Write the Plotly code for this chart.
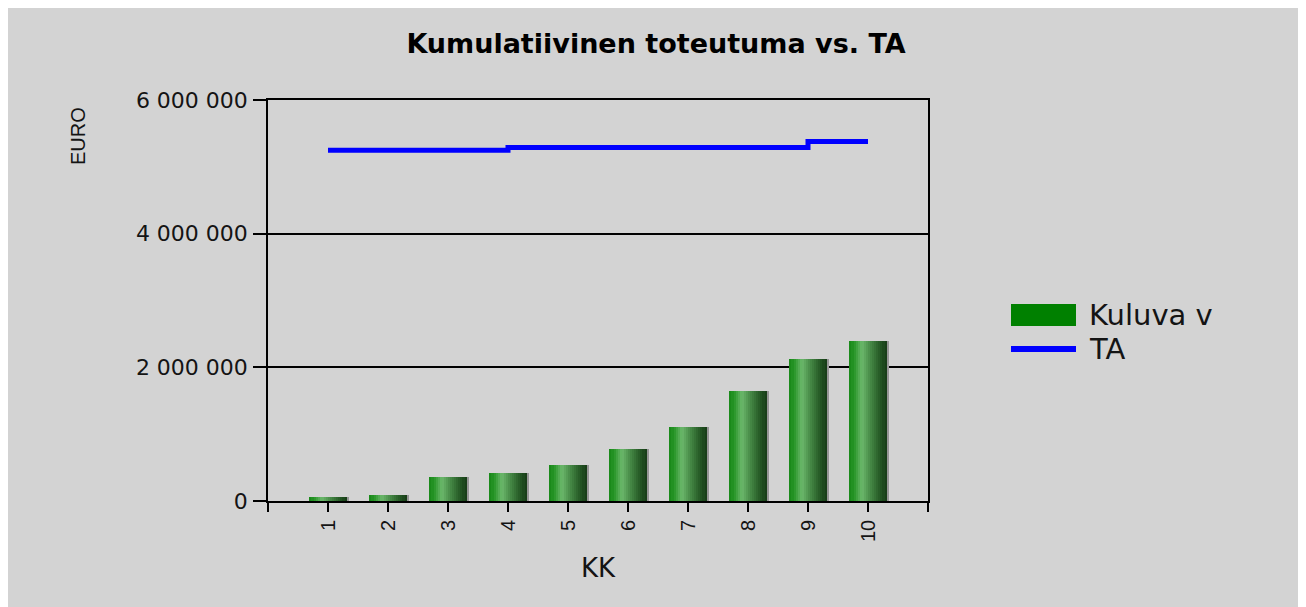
import plotly.graph_objects as go

# ---- data ----
months = [1, 2, 3, 4, 5, 6, 7, 8, 9, 10]
kuluva_v = [65000, 95000, 365000, 420000, 540000, 780000, 1110000, 1650000, 2130000, 2400000]
ta = [5250000, 5250000, 5250000, 5290000, 5290000, 5290000, 5290000, 5290000, 5380000, 5380000]
y_ticks = [0, 2000000, 4000000, 6000000]
x_tick_labels = ["", "1", "2", "3", "4", "5", "6", "7", "8", "9", "10", ""]
x_tick_vals = list(range(0, 12))
series_names = ["Kuluva v", "TA"]

# ---- styling helpers ----
BAR_W = 0.62
N_STRIPES = 18
stops = [(0.0, (22, 135, 22)), (0.12, (40, 150, 40)), (0.33, (108, 184, 108)),
         (0.55, (72, 140, 72)), (0.85, (35, 85, 35)), (1.0, (22, 58, 22))]


def grad(t):
    for (t0, c0), (t1, c1) in zip(stops[:-1], stops[1:]):
        if t0 <= t <= t1:
            f = (t - t0) / (t1 - t0) if t1 > t0 else 0
            return "rgb(%d,%d,%d)" % tuple(round(a + (b - a) * f) for a, b in zip(c0, c1))
    return "rgb(%d,%d,%d)" % stops[-1][1]


fig = go.Figure()

# bar shadow
fig.add_trace(go.Bar(x=months, y=kuluva_v, width=0.045, offset=BAR_W / 2 - 0.005,
                     marker=dict(color="rgb(150,150,150)", line=dict(width=0)),
                     showlegend=False, hoverinfo="skip"))

sw = BAR_W / N_STRIPES
for k in range(N_STRIPES):
    t = (k + 0.5) / N_STRIPES
    fig.add_trace(go.Bar(x=months, y=kuluva_v, width=sw * 1.05, offset=-BAR_W / 2 + k * sw,
                         marker=dict(color=grad(t), line=dict(width=0)),
                         showlegend=False, name=series_names[0]))

fig.add_trace(go.Scatter(x=months, y=ta, mode="lines", name=series_names[1], line_shape="hv",
                         showlegend=False, line=dict(color="rgb(0,0,255)", width=5)))

# ---- geometry (reference pixel coordinates); page body has an 8px margin ----
OFF = 8
L, R, T, B = 268, 928, 100, 501
W, H = 1306 - OFF, 607 - OFF
pw, ph = R - L, B - T


def px_x(p):
    return (p - L) / pw


def px_y(p):
    return (B - p) / ph


# grey panel
fig.add_shape(type="rect", xref="paper", yref="paper", layer="below",
              x0=px_x(6), x1=px_x(1303), y0=px_y(620), y1=px_y(5),
              fillcolor="rgb(211,211,211)", line=dict(width=0))

txt = "#141414"

fig.add_annotation(text="EURO", xref="paper", yref="paper", x=px_x(78), y=px_y(136),
                   xanchor="center", yanchor="middle",
                   textangle=-90, showarrow=False,
                   font=dict(family="Liberation Sans, Arial", size=20, color=txt))

# legend (drawn as layout decorations to get the wide swatches)
fig.add_shape(type="rect", xref="paper", yref="paper",
              x0=px_x(1011), x1=px_x(1076), y0=px_y(326), y1=px_y(304),
              fillcolor="rgb(0,128,0)", line=dict(width=0))
fig.add_shape(type="line", xref="paper", yref="paper",
              x0=px_x(1011), x1=px_x(1076), y0=px_y(349), y1=px_y(349),
              line=dict(color="rgb(0,0,255)", width=6))
fig.add_annotation(text=series_names[0], xref="paper", yref="paper", x=px_x(1087), y=px_y(315),
                   xanchor="left", yanchor="middle", showarrow=False,
                   font=dict(family="DejaVu Sans", size=29, color=txt))
fig.add_annotation(text=series_names[1], xref="paper", yref="paper", x=px_x(1087), y=px_y(349),
                   xanchor="left", yanchor="middle", showarrow=False,
                   font=dict(family="DejaVu Sans", size=29, color=txt))

fig.update_layout(
    width=W, height=H,
    margin=dict(l=L - OFF, r=1306 - R, t=T - OFF, b=607 - B),
    paper_bgcolor="white", plot_bgcolor="rgb(211,211,211)",
    barmode="overlay", bargap=0,
    separators=". ",
    showlegend=False,
    title=dict(text="Kumulatiivinen toteutuma vs. TA", xref="container", yref="container",
               x=(656 - OFF) / W, xanchor="center", y=1 - (44 - OFF) / H, yanchor="middle",
               font=dict(family="DejaVu Sans", size=27, color="#000", weight="bold")),
)

fig.update_xaxes(range=[0, 11], tickmode="array", tickvals=x_tick_vals, ticktext=x_tick_labels,
                 tickangle=-90, ticks="outside", ticklen=9, tickcolor="black", tickwidth=1.5,
                 showline=True, linecolor="black", linewidth=1.5, mirror=True,
                 showgrid=False, zeroline=False,
                 tickfont=dict(family="Liberation Sans, Arial", size=20, color=txt),
                 title=dict(text="KK", standoff=18,
                            font=dict(family="DejaVu Sans", size=26, color=txt)))

fig.update_yaxes(range=[0, 6000000], tickmode="array", tickvals=y_ticks, tickformat=",d",
                 ticks="outside", ticklen=13, tickcolor="black", tickwidth=1.5,
                 showline=True, linecolor="black", linewidth=1.5, mirror=True,
                 showgrid=True, gridcolor="black", gridwidth=1.5, zeroline=False,
                 ticklabelstandoff=1,
                 tickfont=dict(family="DejaVu Sans", size=22, color=txt))

fig.write_html("out.html")
